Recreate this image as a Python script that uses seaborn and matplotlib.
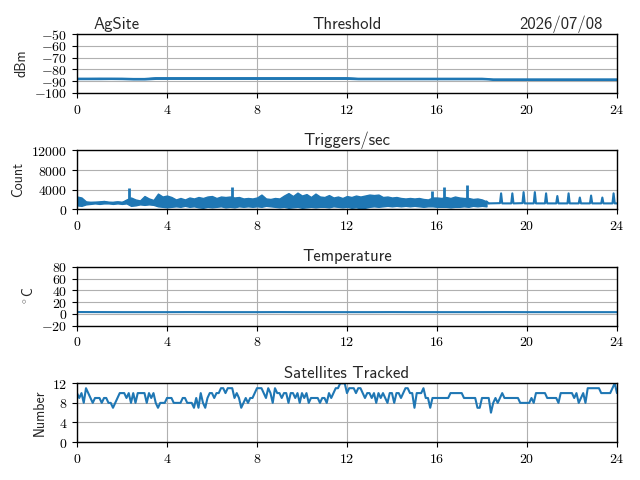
import numpy as np
import pandas as pd
import seaborn as sns
import matplotlib.pyplot as plt
from matplotlib.ticker import FuncFormatter

# ---- data (hours of day) ----
# threshold: low / high envelope every 0.5 h
thresh_hours = [i * 0.5 for i in range(49)]
thresh_lo = [-88.2, -88.2, -88.2, -88.1, -88.2, -88.5, -88.5, -88.0, -88.0, -88.0,
             -88.0, -88.0, -88.0, -88.0, -88.0, -88.0, -88.0, -88.0, -88.0, -88.0,
             -88.0, -88.0, -88.0, -88.0, -88.0, -88.3, -88.3, -88.3, -88.3, -88.3,
             -88.3, -88.3, -88.3, -88.3, -88.3, -88.3, -88.3, -88.6, -88.6, -88.6,
             -88.6, -88.6, -88.6, -88.6, -88.6, -88.6, -88.6, -88.6, -88.6]
thresh_hi = [-87.6, -87.6, -87.5, -87.6, -87.6, -87.8, -87.8, -87.0, -87.0, -87.0,
             -87.0, -87.0, -87.0, -87.0, -87.0, -87.0, -87.0, -87.0, -87.0, -87.0,
             -87.0, -87.0, -87.0, -87.0, -87.0, -87.6, -87.6, -87.6, -87.6, -87.6,
             -87.6, -87.6, -87.6, -87.6, -87.6, -87.6, -87.6, -88.4, -88.4, -88.4,
             -88.4, -88.4, -88.4, -88.4, -88.4, -88.4, -88.4, -88.4, -88.4]

# triggers/sec: low / high envelope every 0.2 h up to 18.2 h
trig_lo = [800, 700, 1000, 1100, 1200, 1100, 1200, 1200, 1100, 1200,
           1100, 1200, 700, 800, 1000, 900, 1000, 900, 600, 500,
           400, 500, 600, 500, 700, 500, 600, 400, 300, 500,
           400, 500, 600, 400, 500, 400, 600, 500, 600, 500,
           600, 500, 700, 600, 500, 400, 500, 300, 400, 500,
           300, 400, 500, 400, 500, 500, 400, 600, 500, 400,
           500, 300, 400, 200, 300, 500, 600, 500, 600, 700,
           600, 700, 600, 700, 600, 700, 600, 500, 600, 600,
           500, 500, 500, 400, 500, 500, 600, 500, 700, 600,
           700, 600]
trig_hi = [2600, 2400, 1600, 1500, 1500, 1600, 1700, 1500, 1500, 1600,
           1500, 2000, 2400, 2000, 1800, 2700, 2200, 1900, 3200, 2600,
           2800, 2500, 2000, 2300, 2000, 2400, 2200, 2500, 2300, 2600,
           2700, 2300, 2600, 2500, 2600, 2400, 2500, 2200, 2300, 2200,
           2400, 3000, 2200, 2100, 2300, 2200, 2800, 3300, 2700, 3400,
           2800, 3100, 2500, 3200, 2600, 2500, 2900, 2400, 2600, 2300,
           2700, 2500, 2800, 2600, 2800, 3000, 2900, 3000, 2500, 2600,
           2400, 2500, 2300, 2200, 2300, 2200, 2300, 2100, 2000, 2400,
           2400, 2300, 2500, 2300, 2600, 2400, 2300, 2300, 2100, 2200,
           2000, 1600]
# isolated spikes inside the noisy part
spike_hours = [2.3, 6.9, 15.8, 16.3, 17.35]
spike_counts = [4400, 4600, 3800, 4600, 4900]
# quieter tail after 18.3 h with periodic spikes
trig_tail_hours = [18.3, 18.8, 18.85, 18.9, 19.3, 19.35, 19.4, 19.8, 19.85, 19.9,
                   20.3, 20.35, 20.4, 20.8, 20.85, 20.9, 21.3, 21.35, 21.4, 21.8,
                   21.85, 21.9, 22.3, 22.35, 22.4, 22.8, 22.85, 22.9, 23.3, 23.35,
                   23.4, 23.8, 23.85, 23.9, 24.0]
trig_tail = [1200, 1250, 3250, 1200, 1200, 3250, 1200, 1250, 3500, 1200,
             1200, 3500, 1200, 1200, 3250, 1200, 1200, 2700, 1200, 1200,
             3250, 1200, 1200, 2400, 1200, 1200, 2800, 1200, 1200, 2400,
             1200, 1200, 3250, 1200, 1200]

temp_hours = list(range(25))
temp_c = [3.2, 3.1, 3.0, 3.0, 3.0, 3.1, 3.0, 3.0, 3.0, 3.1, 3.0, 3.0, 3.0,
          3.0, 3.1, 3.0, 3.0, 3.0, 3.0, 3.1, 3.0, 3.0, 3.0, 3.0, 3.0]

# satellites tracked every 0.1 h
sats = [
    10, 9, 10, 8, 11, 10, 9, 8, 9, 9,
    9, 8, 9, 9, 8, 8, 7, 8, 9, 10,
    10, 10, 9, 10, 8, 10, 8, 10, 10, 10,
    10, 8, 10, 9, 10, 8, 7, 8, 8, 8,
    9, 9, 9, 8, 8, 8, 8, 9, 9, 8,
    8, 8, 7, 9, 7, 10, 8, 7, 9, 10,
    10, 9, 10, 10, 11, 11, 10, 11, 11, 11,
    9, 10, 9, 7, 8, 9, 8, 9, 9, 10,
    11, 11, 11, 10, 9, 11, 10, 8, 11, 10,
    10, 9, 10, 10, 8, 10, 10, 9, 10, 8,
    10, 9, 10, 8, 9, 9, 9, 9, 8, 9,
    9, 8, 10, 9, 10, 11, 11, 12, 12, 12,
    10, 11, 11, 11, 10, 11, 11, 10, 9, 10,
    10, 9, 10, 8, 10, 9, 10, 9, 8, 10,
    10, 8, 10, 10, 9, 10, 11, 11, 10, 10,
    7, 10, 10, 10, 11, 9, 9, 7, 9, 9,
    9, 9, 9, 9, 9, 9, 10, 10, 10, 10,
    10, 10, 9, 9, 9, 9, 9, 9, 7, 7,
    9, 9, 9, 9, 6, 8, 9, 8, 9, 10,
    9, 9, 9, 9, 9, 9, 9, 8, 8, 8,
    8, 8, 9, 8, 10, 10, 10, 10, 10, 9,
    9, 9, 9, 9, 8, 10, 10, 10, 10, 10,
    10, 9, 10, 8, 9, 10, 8, 11, 11, 11,
    11, 11, 11, 10, 10, 10, 10, 10, 11, 12,
    10,
]

site = "AgSite"
date_str = "2026/07/08"

BLUE = "#1f77b4"
trig_band_hours = list(np.round(np.arange(len(trig_lo)) * 0.2, 1))
sat_hours = list(np.round(np.arange(len(sats)) * 0.1, 1))

sns.set_style("ticks")
plt.rcParams["mathtext.fontset"] = "cm"
SANS = "cmss10"


def tick_fmt(v, pos):
    s = f"{abs(v):g}"
    return rf"${{-}}{s}$" if v < 0 else rf"${s}$"


math_fmt = FuncFormatter(tick_fmt)


def band(ax, hours, lo, hi):
    # min-max envelope drawn by seaborn as a solid band
    df = pd.DataFrame({"hour": list(hours) * 2, "value": list(lo) + list(hi)})
    sns.lineplot(data=df, x="hour", y="value", ax=ax, color=BLUE, linewidth=1.5,
                 errorbar=("pi", 100),
                 err_kws={"alpha": 1, "linewidth": 1.0, "edgecolor": BLUE})


def line(ax, hours, vals):
    df = pd.DataFrame({"hour": hours, "value": vals})
    sns.lineplot(data=df, x="hour", y="value", ax=ax, color=BLUE,
                 linewidth=1.5, estimator=None, sort=False)


fig, axes = plt.subplots(4, 1, figsize=(6.4, 4.8), dpi=100)

band(axes[0], thresh_hours, thresh_lo, thresh_hi)

band(axes[1], trig_band_hours, trig_lo, trig_hi)
axes[1].vlines(spike_hours, 1000, spike_counts, color=BLUE, linewidth=2.0)
line(axes[1], trig_tail_hours, trig_tail)
line(axes[1], [trig_band_hours[-1], trig_tail_hours[0]], [1600, trig_tail[0]])

line(axes[2], temp_hours, temp_c)
line(axes[3], sat_hours, sats)

setup = [
    ("Threshold", "dBm", (-100, -50), range(-100, -49, 10)),
    ("Triggers/sec", "Count", (0, 12000), range(0, 12001, 4000)),
    ("Temperature", r"$^\circ$C", (-20, 80), range(-20, 81, 20)),
    ("Satellites Tracked", "Number", (0, 12), range(0, 13, 4)),
]

for ax, (title, ylab, ylim, yt) in zip(axes, setup):
    ax.set_xlim(0, 24)
    ax.set_xticks(range(0, 25, 4))
    ax.set_ylim(*ylim)
    ax.set_yticks(list(yt))
    ax.xaxis.set_major_formatter(math_fmt)
    ax.yaxis.set_major_formatter(math_fmt)
    ax.grid(True, color="#b0b0b0", linewidth=0.8)
    ax.set_axisbelow(True)
    ax.set_xlabel("")
    ax.set_title(title, fontsize=12, family=SANS, pad=4)
    ax.set_ylabel(ylab, fontsize=10, family=SANS)
    for sp in ax.spines.values():
        sp.set_color("black")
        sp.set_linewidth(1.0)
    ax.tick_params(colors="black", length=3.5, width=0.8, labelsize=10)

axes[0].set_title(site, loc="left", fontsize=12, family=SANS, pad=4, x=0.03)
axes[0].set_title(date_str, loc="right", fontsize=12, family=SANS, pad=4, x=0.974)

fig.subplots_adjust(left=0.1203, right=0.964, top=0.929, bottom=0.079, hspace=0.98)
fig.savefig("out.png", dpi=100)
